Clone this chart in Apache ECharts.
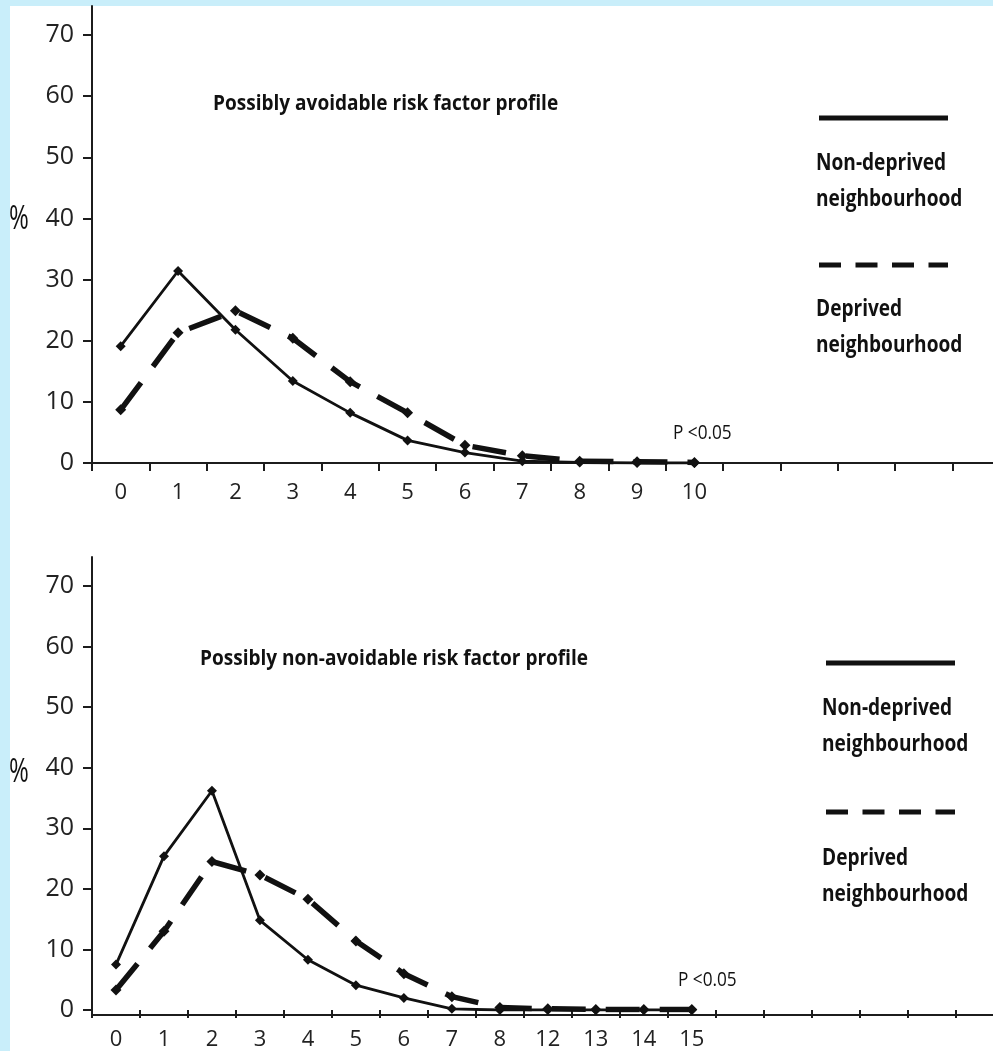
<!DOCTYPE html>
<html><head><meta charset="utf-8">
<script src="https://cdn.jsdelivr.net/npm/echarts@6/dist/echarts.min.js"></script>
<style>
html,body{margin:0;padding:0;background:#c9eefa;overflow:hidden;}
#w{position:absolute;left:10px;top:6px;right:0;bottom:0;background:#fff;}
#c{position:absolute;left:0;top:0;width:993px;height:1051px;}
</style>
</head><body><div id="w"></div><div id="c"></div>
<script>
// ---- data ----
const topCategories = ['0','1','2','3','4','5','6','7','8','9','10'];
const topNonDeprived = [19.1, 31.4, 21.8, 13.4, 8.2, 3.7, 1.7, 0.3, 0.1, 0, 0];
const topDeprived    = [8.7, 21.3, 24.9, 20.4, 13.3, 8.2, 2.9, 1.2, 0.3, 0.2, 0.1];
const bottomCategories = ['0','1','2','3','4','5','6','7','8','12','13','14','15'];
const bottomNonDeprived = [7.5, 25.4, 36.2, 14.8, 8.3, 4.1, 2.0, 0.2, 0, 0, 0, 0, 0];
const bottomDeprived    = [3.3, 13.0, 24.5, 22.3, 18.3, 11.4, 6.0, 2.2, 0.4, 0.2, 0.1, 0.1, 0.1];
const yMin = 0, yMax = 70, yStep = 10;
const topTitle = 'Possibly avoidable risk factor profile';
const bottomTitle = 'Possibly non-avoidable risk factor profile';
const pText = 'P <0.05';
const legendNames = ['Non-deprived\nneighbourhood', 'Deprived\nneighbourhood'];

// ---- layout ----
const TOP_SLOTS = 15, BOTTOM_SLOTS = 18;
const FONT = "'Open Sans', 'Liberation Sans', sans-serif";
const ink = '#111';
const axisInk = '#1c1c1c';

function slots(cats, n) { return Array.from({length: n}, (_, i) => i < cats.length ? cats[i] : ''); }

function catAxis(gi, cats, n) {
  return {
    type: 'category', gridIndex: gi, data: slots(cats, n), boundaryGap: true,
    axisLine: {show: false},
    axisTick: {show: true, interval: 0, length: 8, lineStyle: {color: axisInk, width: 2}},
    axisLabel: {interval: 0, margin: 19, fontSize: 22, color: '#222', fontFamily: FONT},
    splitLine: {show: false}
  };
}
function valAxis(gi) {
  return {
    type: 'value', gridIndex: gi, min: yMin, max: yMax, interval: yStep,
    axisLine: {show: false},
    axisTick: {show: true, length: 9, lineStyle: {color: axisInk, width: 2}},
    axisLabel: {margin: 18, fontSize: 25, color: '#222', fontFamily: FONT},
    splitLine: {show: false}
  };
}
function lineAxis(gi) {
  return {
    type: 'value', gridIndex: gi, min: 0, max: 1,
    axisLine: {show: true, onZero: false, lineStyle: {color: axisInk, width: 2}},
    axisTick: {show: false}, axisLabel: {show: false}, splitLine: {show: false}
  };
}
function solid(xi, data) {
  return {type: 'line', xAxisIndex: xi, yAxisIndex: xi, data, symbol: 'diamond', symbolSize: 10,
    lineStyle: {color: ink, width: 2.8}, itemStyle: {color: ink}, z: 3};
}
function dashed(xi, data) {
  return {type: 'line', xAxisIndex: xi, yAxisIndex: xi, data, symbol: 'diamond', symbolSize: 11,
    lineStyle: {color: ink, width: 5.5, type: [34, 20], cap: 'butt'}, itemStyle: {color: ink}, z: 2};
}
function txt(text, x, y, size, bold, sx) {
  return {type: 'text', x, y, scaleX: sx || 1, scaleY: 1,
    style: {text, x: 0, y: 0, fontSize: size, fontWeight: bold ? 'bold' : 'normal',
    fontFamily: FONT, fill: '#111', align: 'left', verticalAlign: 'middle', lineHeight: Math.round(size * 1.58)}};
}
function seg(x1, x2, y, dash) {
  return {type: 'line', shape: {x1, y1: y, x2, y2: y}, style: {stroke: ink, lineWidth: 5, lineDash: dash || null}};
}

const chart = echarts.init(document.getElementById('c'), null, {renderer: 'canvas'});
chart.setOption({
  animation: false,
  backgroundColor: 'transparent',
  grid: [
    {left: 92, top: 35, right: 40.4, bottom: 1051 - 463},
    {left: 92, top: 586, right: 37.3, bottom: 1051 - 1015},
    {left: 92, top: 6, right: 0, bottom: 1051 - 463},
    {left: 92, top: 557, right: 0, bottom: 1051 - 1015}
  ],
  xAxis: [catAxis(0, topCategories, TOP_SLOTS), catAxis(1, bottomCategories, BOTTOM_SLOTS), lineAxis(2), lineAxis(3)],
  yAxis: [valAxis(0), valAxis(1), lineAxis(2), lineAxis(3)],
  series: [
    dashed(0, topDeprived), solid(0, topNonDeprived),
    dashed(1, bottomDeprived), solid(1, bottomNonDeprived)
  ],
  graphic: [
    txt(topTitle, 213, 104, 22, true, 0.865),
    txt(bottomTitle, 200, 659, 22, true, 0.865),
    txt(pText, 673, 433, 20, false, 0.86),
    txt(pText, 678, 980, 20, false, 0.86),
    txt('%', 9, 220, 32, false, 0.75),
    txt('%', 9, 773, 32, false, 0.75),
    seg(819, 948, 118),
    txt(legendNames[0], 816, 181, 23, true, 0.83),
    seg(819, 948, 265, [22, 14.5]),
    txt(legendNames[1], 816, 327, 23, true, 0.83),
    seg(826, 955, 663),
    txt(legendNames[0], 822, 726, 23, true, 0.83),
    seg(826, 955, 812, [22, 14.5]),
    txt(legendNames[1], 822, 876, 23, true, 0.83)
  ]
});
</script>
</body></html>
